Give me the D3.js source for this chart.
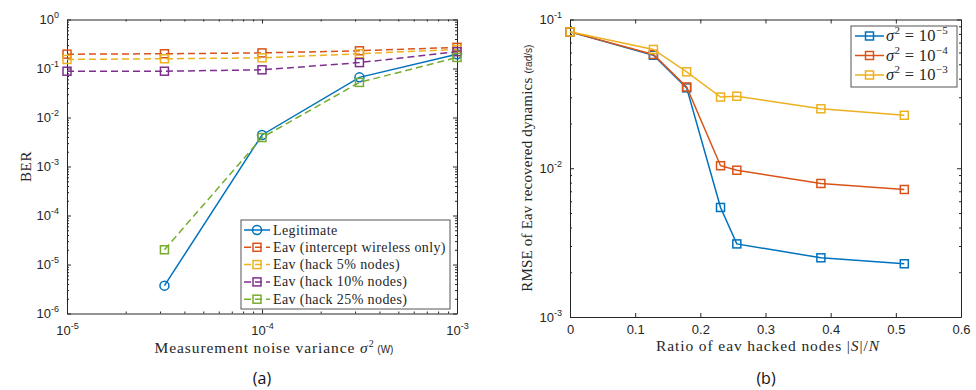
<!DOCTYPE html>
<html lang="en">
<head>
  <meta charset="UTF-8">
  <title>BER and RMSE</title>
  <script src="https://d3js.org/d3.v7.min.js"></script>
  <style>
    body { margin: 0; background: #fff; }
    .tick text { font: 13px "Liberation Sans", Arial, sans-serif; fill: #262626; }
    .tick line, .domain { stroke: #262626; }
    .lbl { font-family: "Liberation Serif", serif; fill: #262626; }
    .unit { font-family: "Liberation Sans", sans-serif; fill: #262626; letter-spacing: 0; }
    .cap { font: 16px "Open Sans", sans-serif; fill: #111; }
    .mark { fill: none; stroke-width: 1.5px; }
  </style>
</head>
<body>
  <svg width="976" height="390"></svg>
  <script>
    // panel (a): BER vs measurement noise variance
    const noiseVar = [1e-5, 3.16e-5, 1e-4, 3.16e-4, 1e-3];
    const berLegit = [null, 3.7e-6, 4.4e-3, 0.066, 0.196];
    const berIntercept = [0.196, 0.2, 0.208, 0.23, 0.27];
    const berHack5 = [0.153, 0.158, 0.165, 0.2, 0.245];
    const berHack10 = [0.088, 0.088, 0.094, 0.132, 0.22];
    const berHack25 = [null, 2.0e-5, 3.9e-3, 0.052, 0.168];
    const berNames = ['Legitimate', 'Eav (intercept wireless only)', 'Eav (hack 5% nodes)',
                      'Eav (hack 10% nodes)', 'Eav (hack 25% nodes)'];

    // panel (b): RMSE vs ratio of hacked nodes
    const hackRatio = [0, 0.128, 0.179, 0.231, 0.256, 0.385, 0.513];
    const rmse5 = [0.0826, 0.0575, 0.0347, 0.00545, 0.0031, 0.0025, 0.00228];
    const rmse4 = [0.0826, 0.0582, 0.0352, 0.0104, 0.0097, 0.0079, 0.0072];
    const rmse3 = [0.0826, 0.0629, 0.0445, 0.0301, 0.0305, 0.0251, 0.0227];
    const rmseExp = ['\u22125', '\u22124', '\u22123'];

    const colors = ['#0072BD', '#D95319', '#EDB120', '#7E2F8E', '#77AC30'];
    const svg = d3.select('svg');

    function minorTicks(lo, hi) {
      const out = [];
      for (let e = lo; e < hi; e++)
        for (let m = 2; m <= 9; m++) out.push(m * Math.pow(10, e));
      return out;
    }

    function powLabel(sel) {
      sel.each(function(d) {
        const t = d3.select(this);
        const e = Math.round(Math.log10(d));
        t.text('10');
        t.append('tspan').attr('dy', -6).style('font-size', '9px')
          .text(e < 0 ? '-' + (-e) : e);
      });
    }

    function marker(g, shape, x, y, c) {
      if (shape === 'o') {
        g.append('circle').attr('class', 'mark').attr('cx', x).attr('cy', y).attr('r', 4.5).attr('stroke', c);
      } else {
        g.append('rect').attr('class', 'mark').attr('x', x - 4).attr('y', y - 4)
          .attr('width', 8).attr('height', 8).attr('stroke', c);
      }
    }

    // ---------- panel (a) ----------
    const ax = { l: 67, r: 457, t: 19.5, b: 313.5 };
    const xa = d3.scaleLog().domain([1e-5, 1e-3]).range([ax.l, ax.r]);
    const ya = d3.scaleLog().domain([1e-6, 1]).range([ax.b, ax.t]);
    const ga = svg.append('g');

    const xMajA = [1e-5, 1e-4, 1e-3];
    const yMajA = [1e-6, 1e-5, 1e-4, 1e-3, 1e-2, 1e-1, 1];
    ga.append('g').attr('transform', `translate(0,${ax.b})`)
      .call(d3.axisBottom(xa).tickValues(xMajA).tickSizeInner(-4).tickSizeOuter(0).tickPadding(12))
      .call(g => g.selectAll('text').call(powLabel));
    ga.append('g').attr('transform', `translate(0,${ax.b})`)
      .call(d3.axisBottom(xa).tickValues(minorTicks(-5, -3)).tickSize(-2).tickFormat(''))
      .call(g => g.select('.domain').remove());
    ga.append('g').attr('transform', `translate(0,${ax.t})`)
      .call(d3.axisTop(xa).tickValues(xMajA).tickSizeInner(-4).tickSizeOuter(0).tickFormat(''));
    ga.append('g').attr('transform', `translate(0,${ax.t})`)
      .call(d3.axisTop(xa).tickValues(minorTicks(-5, -3)).tickSize(-2).tickFormat(''))
      .call(g => g.select('.domain').remove());
    ga.append('g').attr('transform', `translate(${ax.l},0)`)
      .call(d3.axisLeft(ya).tickValues(yMajA).tickSizeInner(-4).tickSizeOuter(0).tickPadding(8))
      .call(g => g.selectAll('text').call(powLabel));
    ga.append('g').attr('transform', `translate(${ax.l},0)`)
      .call(d3.axisLeft(ya).tickValues(minorTicks(-6, 0)).tickSize(-2).tickFormat(''))
      .call(g => g.select('.domain').remove());
    ga.append('g').attr('transform', `translate(${ax.r},0)`)
      .call(d3.axisRight(ya).tickValues(yMajA).tickSizeInner(-4).tickSizeOuter(0).tickFormat(''));
    ga.append('g').attr('transform', `translate(${ax.r},0)`)
      .call(d3.axisRight(ya).tickValues(minorTicks(-6, 0)).tickSize(-2).tickFormat(''))
      .call(g => g.select('.domain').remove());

    const berSeries = [berLegit, berIntercept, berHack5, berHack10, berHack25];
    const lineA = d3.line().defined(d => d[1] != null).x(d => xa(d[0])).y(d => ya(d[1]));
    berSeries.forEach((s, i) => {
      const pts = noiseVar.map((v, j) => [v, s[j]]);
      ga.append('path').datum(pts).attr('d', lineA).attr('fill', 'none')
        .attr('stroke', colors[i]).attr('stroke-width', 1.5)
        .attr('stroke-dasharray', i === 0 ? null : '7,4');
      pts.filter(p => p[1] != null).forEach(p =>
        marker(ga, i === 0 ? 'o' : 's', xa(p[0]), ya(p[1]), colors[i]));
    });

    // legend (a)
    const lgA = ga.append('g').attr('transform', 'translate(241,220)');
    lgA.append('rect').attr('width', 209).attr('height', 89).attr('fill', '#fff')
      .attr('stroke', '#555').attr('stroke-width', 1);
    berNames.forEach((n, i) => {
      const y = 10 + i * 17.3;
      lgA.append('line').attr('x1', 3).attr('x2', 29).attr('y1', y).attr('y2', y)
        .attr('stroke', colors[i]).attr('stroke-width', 1.5)
        .attr('stroke-dasharray', i === 0 ? null : '7,4');
      marker(lgA, i === 0 ? 'o' : 's', 16, y, colors[i]);
      lgA.append('text').attr('class', 'lbl').attr('x', 32).attr('y', y + 4.5)
        .style('font-size', '14px').style('letter-spacing', '0.4px').text(n);
    });

    // labels (a)
    svg.append('text').attr('class', 'lbl').attr('transform', `translate(31,${(ax.t + ax.b) / 2}) rotate(-90)`)
      .attr('text-anchor', 'middle').style('font-size', '15px').style('letter-spacing', '0.6px').text('BER');
    const xlA = svg.append('text').attr('class', 'lbl').attr('x', 274).attr('y', 353)
      .attr('text-anchor', 'middle').style('font-size', '15.5px').style('letter-spacing', '0.9px');
    xlA.append('tspan').text('Measurement noise variance ');
    xlA.append('tspan').style('font-style', 'italic').text('\u03c3');
    xlA.append('tspan').attr('dy', -6).style('font-size', '10px').text('2');
    xlA.append('tspan').attr('dy', 6).attr('class', 'unit').style('font-size', '10px').text(' (W)');
    svg.append('text').attr('class', 'cap').attr('x', 262).attr('y', 384).attr('text-anchor', 'middle').text('(a)');

    // ---------- panel (b) ----------
    const bx = { l: 570, r: 961, t: 19.5, b: 317 };
    const xb = d3.scaleLinear().domain([0, 0.6]).range([bx.l, bx.r]);
    const yb = d3.scaleLog().domain([1e-3, 1e-1]).range([bx.b, bx.t]);
    const gb = svg.append('g');
    const xMajB = d3.range(0, 0.61, 0.1);
    const yMajB = [1e-3, 1e-2, 1e-1];

    gb.append('g').attr('transform', `translate(0,${bx.b})`)
      .call(d3.axisBottom(xb).tickValues(xMajB).tickSizeInner(-4).tickSizeOuter(0).tickPadding(8)
        .tickFormat(d => d === 0 ? '0' : d3.format('.1f')(d)));
    gb.append('g').attr('transform', `translate(0,${bx.t})`)
      .call(d3.axisTop(xb).tickValues(xMajB).tickSizeInner(-4).tickSizeOuter(0).tickFormat(''));
    gb.append('g').attr('transform', `translate(${bx.l},0)`)
      .call(d3.axisLeft(yb).tickValues(yMajB).tickSizeInner(-4).tickSizeOuter(0).tickPadding(8))
      .call(g => g.selectAll('text').call(powLabel));
    gb.append('g').attr('transform', `translate(${bx.l},0)`)
      .call(d3.axisLeft(yb).tickValues(minorTicks(-3, -1)).tickSize(-2).tickFormat(''))
      .call(g => g.select('.domain').remove());
    gb.append('g').attr('transform', `translate(${bx.r},0)`)
      .call(d3.axisRight(yb).tickValues(yMajB).tickSizeInner(-4).tickSizeOuter(0).tickFormat(''));
    gb.append('g').attr('transform', `translate(${bx.r},0)`)
      .call(d3.axisRight(yb).tickValues(minorTicks(-3, -1)).tickSize(-2).tickFormat(''))
      .call(g => g.select('.domain').remove());

    const rmseSeries = [rmse5, rmse4, rmse3];
    const lineB = d3.line().x(d => xb(d[0])).y(d => yb(d[1]));
    rmseSeries.forEach((s, i) => {
      const pts = hackRatio.map((v, j) => [v, s[j]]);
      gb.append('path').datum(pts).attr('d', lineB).attr('fill', 'none')
        .attr('stroke', colors[i]).attr('stroke-width', 1.5);
      pts.forEach(p => marker(gb, 's', xb(p[0]), yb(p[1]), colors[i]));
    });

    // legend (b)
    const lgB = gb.append('g').attr('transform', 'translate(851,26)');
    lgB.append('rect').attr('width', 106).attr('height', 61).attr('fill', '#fff')
      .attr('stroke', '#555').attr('stroke-width', 1);
    rmseExp.forEach((e, i) => {
      const y = 10 + i * 19.5;
      lgB.append('line').attr('x1', 4).attr('x2', 33).attr('y1', y).attr('y2', y)
        .attr('stroke', colors[i]).attr('stroke-width', 1.5);
      marker(lgB, 's', 18.5, y, colors[i]);
      const t = lgB.append('text').attr('class', 'lbl').attr('x', 35).attr('y', y + 5)
        .style('font-size', '16.5px').style('letter-spacing', '0.3px');
      t.append('tspan').style('font-style', 'italic').text('\u03c3');
      t.append('tspan').attr('dy', -7).style('font-size', '11px').text('2');
      t.append('tspan').attr('dy', 7).text(' = 10');
      t.append('tspan').attr('dy', -7).style('font-size', '11px').text(e);
    });

    // labels (b)
    const ylB = svg.append('text').attr('class', 'lbl')
      .attr('transform', `translate(532,${(bx.t + bx.b) / 2}) rotate(-90)`)
      .attr('text-anchor', 'middle').style('font-size', '15px').style('letter-spacing', '0.2px');
    ylB.append('tspan').text('RMSE of Eav recovered dynamics ');
    ylB.append('tspan').attr('class', 'unit').style('font-size', '10px').text('(rad/s)');
    const xlB = svg.append('text').attr('class', 'lbl').attr('x', 768).attr('y', 351)
      .attr('text-anchor', 'middle').style('font-size', '15.5px').style('letter-spacing', '0.9px');
    xlB.append('tspan').text('Ratio of eav hacked nodes |');
    xlB.append('tspan').style('font-style', 'italic').text('S');
    xlB.append('tspan').text('|/');
    xlB.append('tspan').style('font-style', 'italic').text('N');
    svg.append('text').attr('class', 'cap').attr('x', 766).attr('y', 384).attr('text-anchor', 'middle').text('(b)');
  </script>
</body>
</html>
